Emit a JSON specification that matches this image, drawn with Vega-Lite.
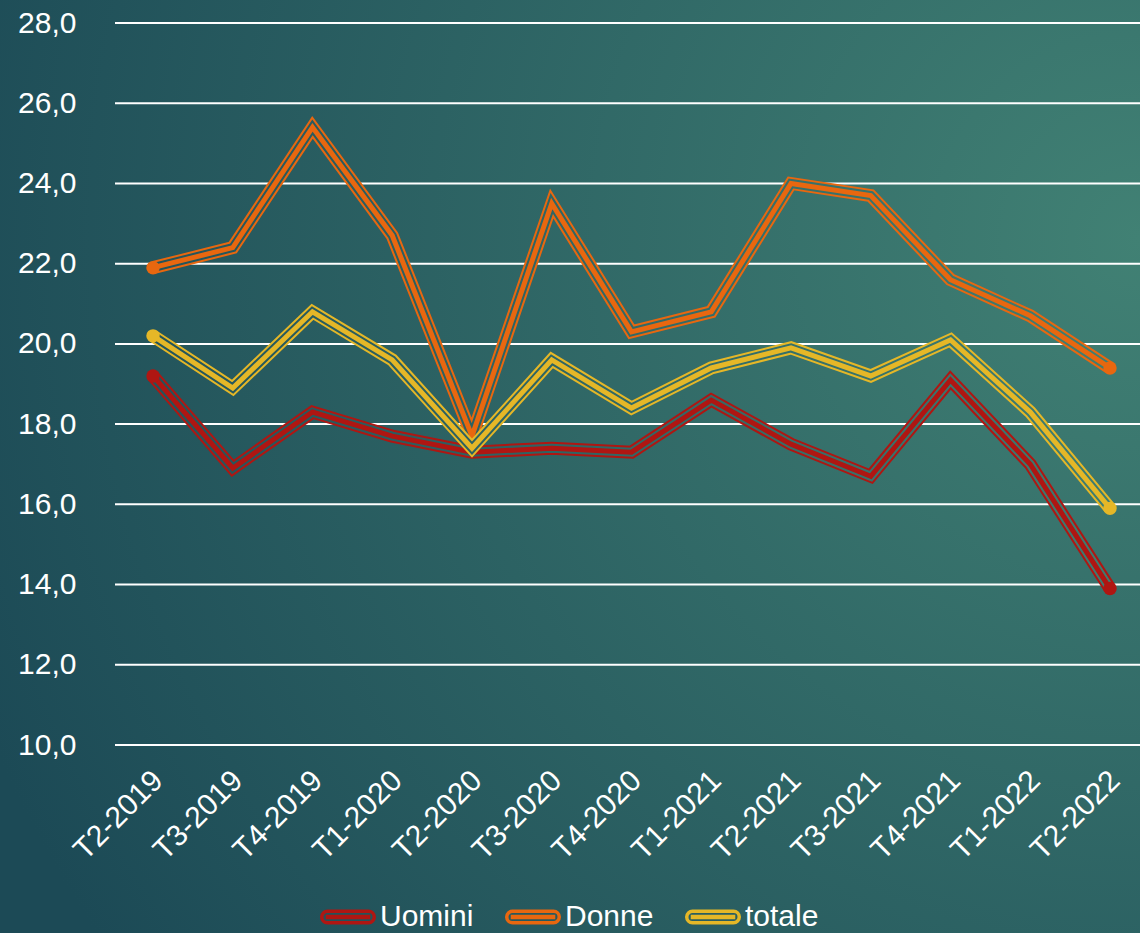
{
  "$schema": "https://vega.github.io/schema/vega-lite/v6.json",
  "width": 1140,
  "height": 933,
  "autosize": {"type": "none"},
  "padding": 0,
  "background": "#245659",
  "config": {
    "view": {"stroke": null},
    "font": "Liberation Sans",
    "scale": {"pointPadding": 0}
  },
  "data": {
    "values": [
      {"q": "T2-2019", "s": "Uomini", "v": 19.2},
      {"q": "T3-2019", "s": "Uomini", "v": 16.9},
      {"q": "T4-2019", "s": "Uomini", "v": 18.3},
      {"q": "T1-2020", "s": "Uomini", "v": 17.7},
      {"q": "T2-2020", "s": "Uomini", "v": 17.3},
      {"q": "T3-2020", "s": "Uomini", "v": 17.4},
      {"q": "T4-2020", "s": "Uomini", "v": 17.3},
      {"q": "T1-2021", "s": "Uomini", "v": 18.6},
      {"q": "T2-2021", "s": "Uomini", "v": 17.5},
      {"q": "T3-2021", "s": "Uomini", "v": 16.7},
      {"q": "T4-2021", "s": "Uomini", "v": 19.1},
      {"q": "T1-2022", "s": "Uomini", "v": 17.0},
      {"q": "T2-2022", "s": "Uomini", "v": 13.9},
      {"q": "T2-2019", "s": "Donne", "v": 21.9},
      {"q": "T3-2019", "s": "Donne", "v": 22.4},
      {"q": "T4-2019", "s": "Donne", "v": 25.4},
      {"q": "T1-2020", "s": "Donne", "v": 22.7},
      {"q": "T2-2020", "s": "Donne", "v": 17.7},
      {"q": "T3-2020", "s": "Donne", "v": 23.5},
      {"q": "T4-2020", "s": "Donne", "v": 20.3},
      {"q": "T1-2021", "s": "Donne", "v": 20.8},
      {"q": "T2-2021", "s": "Donne", "v": 24.0},
      {"q": "T3-2021", "s": "Donne", "v": 23.7},
      {"q": "T4-2021", "s": "Donne", "v": 21.6},
      {"q": "T1-2022", "s": "Donne", "v": 20.7},
      {"q": "T2-2022", "s": "Donne", "v": 19.4},
      {"q": "T2-2019", "s": "totale", "v": 20.2},
      {"q": "T3-2019", "s": "totale", "v": 18.9},
      {"q": "T4-2019", "s": "totale", "v": 20.8},
      {"q": "T1-2020", "s": "totale", "v": 19.6},
      {"q": "T2-2020", "s": "totale", "v": 17.4},
      {"q": "T3-2020", "s": "totale", "v": 19.6},
      {"q": "T4-2020", "s": "totale", "v": 18.4},
      {"q": "T1-2021", "s": "totale", "v": 19.4},
      {"q": "T2-2021", "s": "totale", "v": 19.9},
      {"q": "T3-2021", "s": "totale", "v": 19.2},
      {"q": "T4-2021", "s": "totale", "v": 20.1},
      {"q": "T1-2022", "s": "totale", "v": 18.3},
      {"q": "T2-2022", "s": "totale", "v": 15.9}
    ]
  },
  "layer": [
    {
      "data": {"values": [{}]},
      "mark": {
        "type": "rect",
        "fill": {
          "gradient": "radial",
          "x1": 1, "y1": 0.3, "r1": 0,
          "x2": 1, "y2": 0.3, "r2": 1.1,
          "stops": [
            {"offset": 0, "color": "#418174"},
            {"offset": 1, "color": "#1c4a56"}
          ]
        }
      }
    },
    {
      "data": {"values": [{"g": 10}, {"g": 12}, {"g": 14}, {"g": 16}, {"g": 18}, {"g": 20}, {"g": 22}, {"g": 24}, {"g": 26}, {"g": 28}]},
      "mark": {"type": "rule", "color": "#ffffff", "strokeWidth": 2, "xOffset": -38, "x2Offset": 30},
      "encoding": {
        "x": {
          "datum": "T2-2019", "type": "ordinal",
          "scale": {"type": "point", "domain": ["T2-2019","T3-2019","T4-2019","T1-2020","T2-2020","T3-2020","T4-2020","T1-2021","T2-2021","T3-2021","T4-2021","T1-2022","T2-2022"], "range": [153, 1110], "padding": 0},
          "axis": {
            "orient": "bottom", "offset": -185, "labelAngle": -45, "labelFontSize": 30,
            "labelColor": "#ffffff", "labelFont": "Liberation Sans", "ticks": false, "domain": false,
            "grid": false, "title": null, "labelPadding": 17, "labelOffset": -6, "zindex": 1
          }
        },
        "x2": {"datum": "T2-2022"},
        "y": {
          "field": "g", "type": "quantitative",
          "scale": {"domain": [10, 28], "range": [745, 23], "nice": false, "zero": false},
          "axis": {
            "orient": "left", "offset": -76, "values": [10, 12, 14, 16, 18, 20, 22, 24, 26, 28],
            "labelExpr": "replace(format(datum.value, '.1f'), '.', ',')",
            "labelFontSize": 30, "labelColor": "#ffffff", "labelFont": "Liberation Sans",
            "ticks": false, "domain": false, "grid": false, "title": null, "labelPadding": 0, "zindex": 1
          }
        }
      }
    },
    {
      "transform": [{"filter": "datum.s === 'Uomini'"}],
      "mark": {"type": "line", "strokeWidth": 13, "strokeJoin": "miter", "stroke": "#af1612"},
      "encoding": {"x": {"field": "q", "type": "ordinal"}, "y": {"field": "v", "type": "quantitative"}}
    },
    {
      "transform": [{"filter": "datum.s === 'Uomini'"}],
      "mark": {"type": "line", "strokeWidth": 9, "strokeJoin": "miter", "stroke": {"gradient": "linear", "x1": 0, "y1": 0, "x2": 1, "y2": 0, "stops": [{"offset": 0, "color": "#23545b"}, {"offset": 1, "color": "#3d7c71"}]}},
      "encoding": {"x": {"field": "q", "type": "ordinal"}, "y": {"field": "v", "type": "quantitative"}}
    },
    {
      "transform": [{"filter": "datum.s === 'Uomini'"}],
      "mark": {"type": "line", "strokeWidth": 5, "strokeJoin": "miter", "stroke": "#af1612"},
      "encoding": {"x": {"field": "q", "type": "ordinal"}, "y": {"field": "v", "type": "quantitative"}}
    },
    {
      "transform": [{"filter": "datum.s === 'Donne'"}],
      "mark": {"type": "line", "strokeWidth": 13, "strokeJoin": "miter", "stroke": "#e8670f"},
      "encoding": {"x": {"field": "q", "type": "ordinal"}, "y": {"field": "v", "type": "quantitative"}}
    },
    {
      "transform": [{"filter": "datum.s === 'Donne'"}],
      "mark": {"type": "line", "strokeWidth": 9, "strokeJoin": "miter", "stroke": {"gradient": "linear", "x1": 0, "y1": 0, "x2": 1, "y2": 0, "stops": [{"offset": 0, "color": "#23545b"}, {"offset": 1, "color": "#3f7e72"}]}},
      "encoding": {"x": {"field": "q", "type": "ordinal"}, "y": {"field": "v", "type": "quantitative"}}
    },
    {
      "transform": [{"filter": "datum.s === 'Donne'"}],
      "mark": {"type": "line", "strokeWidth": 5, "strokeJoin": "miter", "stroke": "#e8670f"},
      "encoding": {"x": {"field": "q", "type": "ordinal"}, "y": {"field": "v", "type": "quantitative"}}
    },
    {
      "transform": [{"filter": "datum.s === 'totale'"}],
      "mark": {"type": "line", "strokeWidth": 13, "strokeJoin": "miter", "stroke": "#e5b727"},
      "encoding": {"x": {"field": "q", "type": "ordinal"}, "y": {"field": "v", "type": "quantitative"}}
    },
    {
      "transform": [{"filter": "datum.s === 'totale'"}],
      "mark": {"type": "line", "strokeWidth": 9, "strokeJoin": "miter", "stroke": {"gradient": "linear", "x1": 0, "y1": 0, "x2": 1, "y2": 0, "stops": [{"offset": 0, "color": "#23545b"}, {"offset": 1, "color": "#3e7d71"}]}},
      "encoding": {"x": {"field": "q", "type": "ordinal"}, "y": {"field": "v", "type": "quantitative"}}
    },
    {
      "transform": [{"filter": "datum.s === 'totale'"}],
      "mark": {"type": "line", "strokeWidth": 5, "strokeJoin": "miter", "stroke": "#e5b727"},
      "encoding": {"x": {"field": "q", "type": "ordinal"}, "y": {"field": "v", "type": "quantitative"}}
    },
    {
      "transform": [{"filter": "datum.s === 'Uomini' && (datum.q === 'T2-2019' || datum.q === 'T2-2022')"}],
      "mark": {"type": "point", "filled": true, "shape": "circle", "size": 180, "opacity": 1, "fill": "#af1612"},
      "encoding": {"x": {"field": "q", "type": "ordinal"}, "y": {"field": "v", "type": "quantitative"}}
    },
    {
      "transform": [{"filter": "datum.s === 'Donne' && (datum.q === 'T2-2019' || datum.q === 'T2-2022')"}],
      "mark": {"type": "point", "filled": true, "shape": "circle", "size": 180, "opacity": 1, "fill": "#e8670f"},
      "encoding": {"x": {"field": "q", "type": "ordinal"}, "y": {"field": "v", "type": "quantitative"}}
    },
    {
      "transform": [{"filter": "datum.s === 'totale' && (datum.q === 'T2-2019' || datum.q === 'T2-2022')"}],
      "mark": {"type": "point", "filled": true, "shape": "circle", "size": 180, "opacity": 1, "fill": "#e5b727"},
      "encoding": {"x": {"field": "q", "type": "ordinal"}, "y": {"field": "v", "type": "quantitative"}}
    },
    {
      "transform": [{"filter": "false"}],
      "mark": {"type": "point", "filled": false, "strokeWidth": 3.5, "opacity": 1},
      "encoding": {
        "x": {"field": "q", "type": "ordinal"},
        "y": {"field": "v", "type": "quantitative"},
        "color": {
          "field": "s", "type": "nominal",
          "scale": {"domain": ["Uomini", "Donne", "totale"], "range": ["#af1612", "#e8670f", "#e5b727"]},
          "legend": {
            "orient": "none", "legendX": 318, "legendY": 887, "direction": "horizontal",
            "title": null, "padding": 0,
            "symbolType": "M-0.733,-0.205H0.733A0.205,0.205,0,0,1,0.733,0.205H-0.733A0.205,0.205,0,0,1,-0.733,-0.205ZM-0.733,-0.014H0.733V0.014H-0.733Z",
            "symbolSize": 3136, "symbolStrokeWidth": 3.5, "symbolOpacity": 1,
            "labelFontSize": 30, "labelColor": "#ffffff", "labelFont": "Liberation Sans",
            "labelOffset": 2, "columnPadding": 25
          }
        }
      }
    }
  ]
}
